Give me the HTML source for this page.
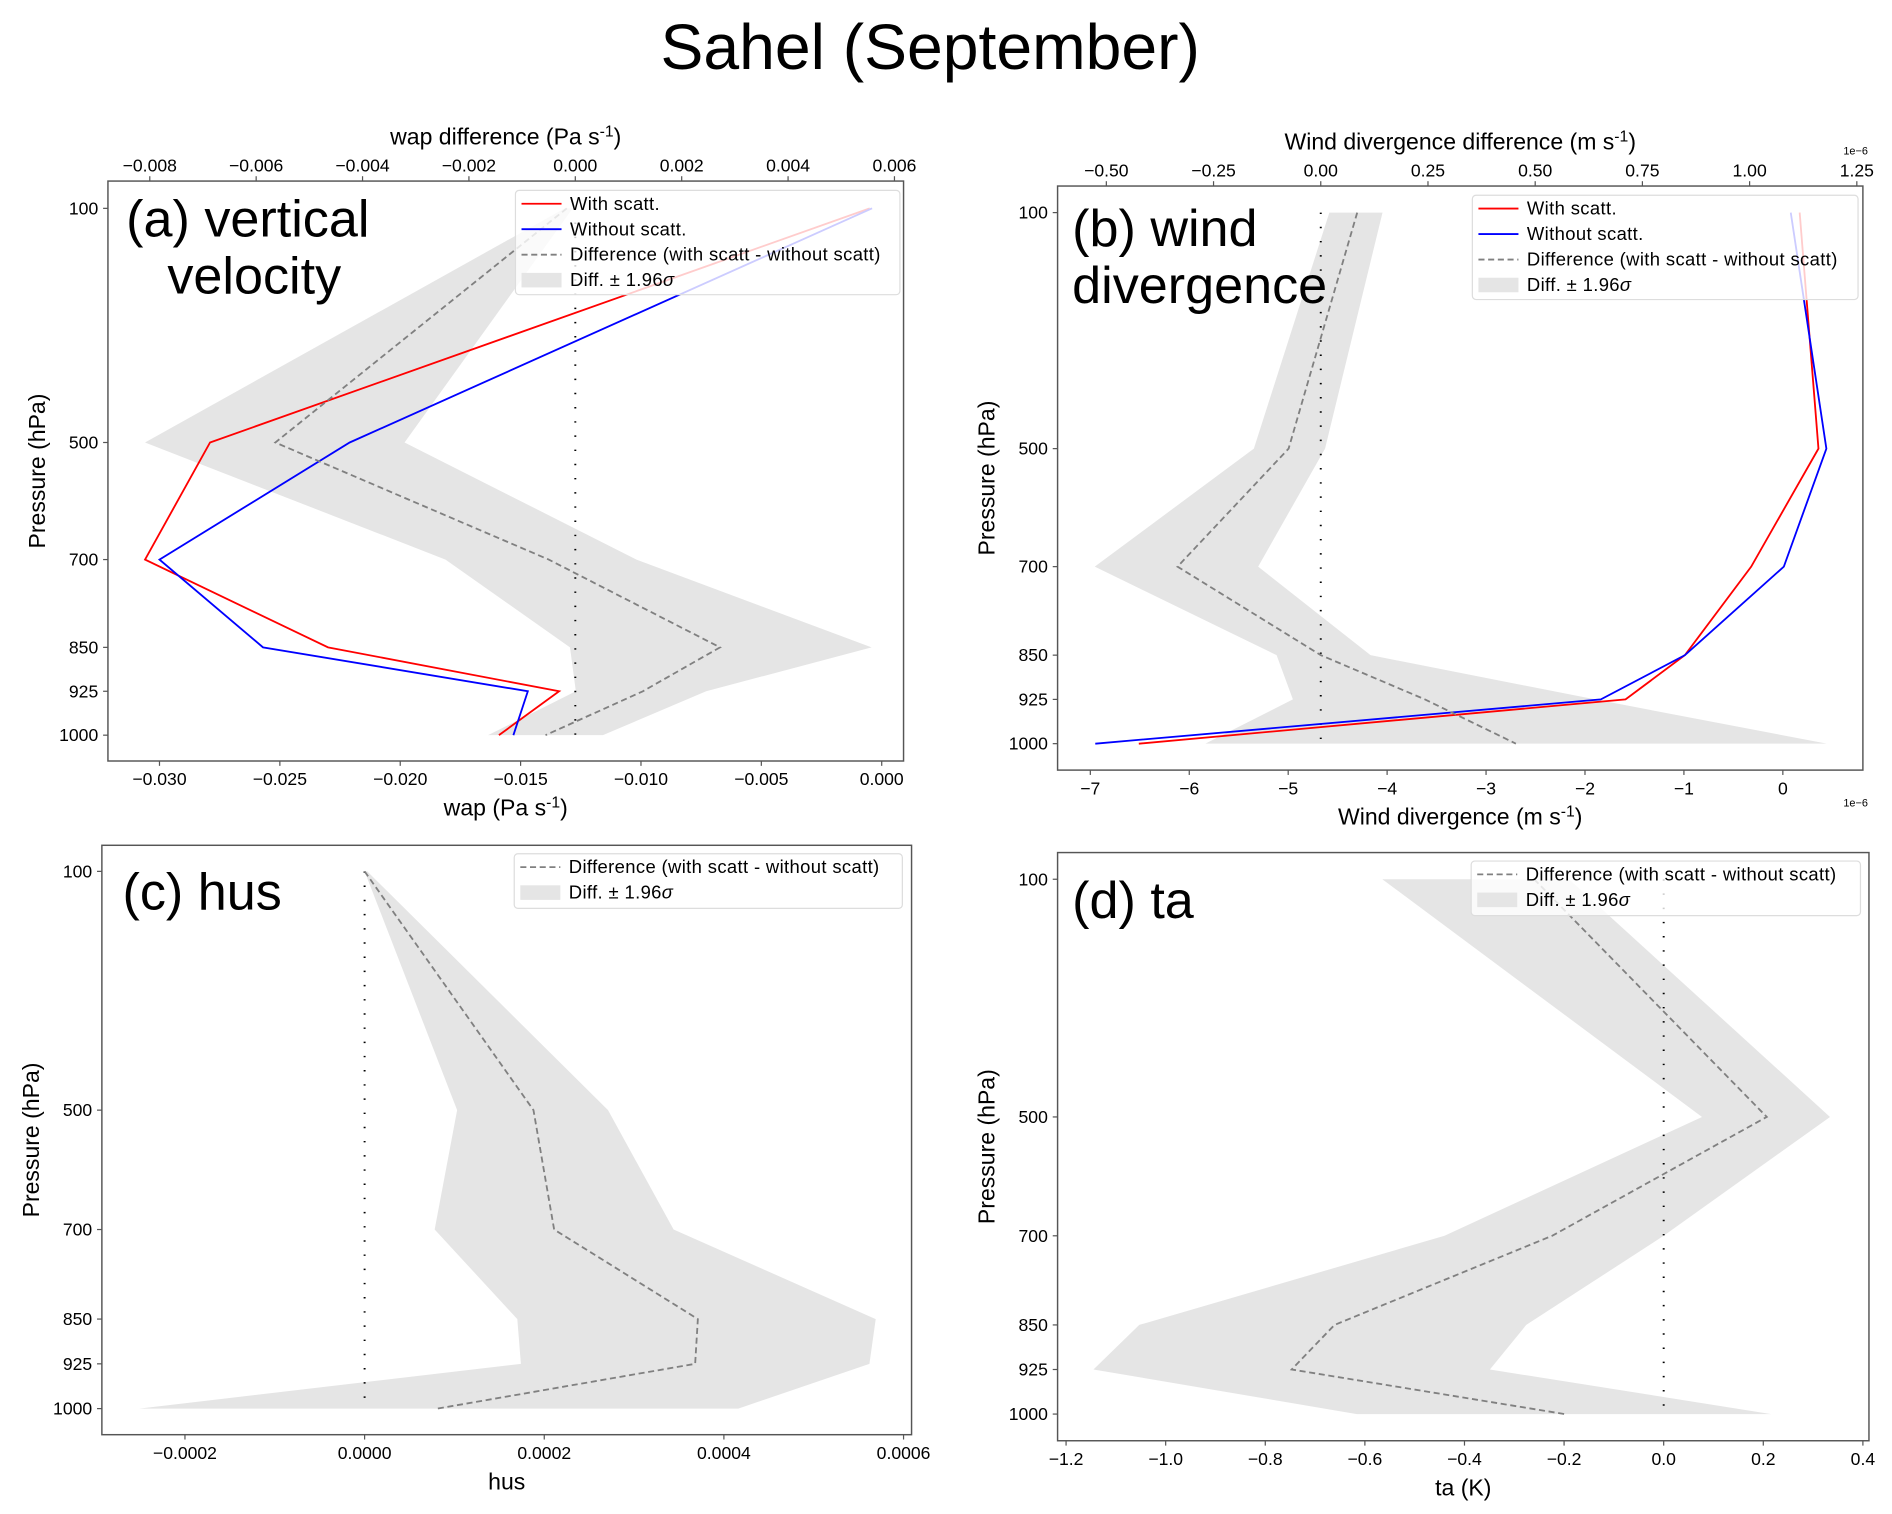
<!DOCTYPE html>
<html><head><meta charset="utf-8"><style>
html,body{margin:0;padding:0;background:#fff;}
svg{display:block;font-family:"Liberation Sans",sans-serif;}
</style></head><body>
<svg id="fig" width="1892" height="1514" viewBox="0 0 1560 1248.4" preserveAspectRatio="none" xmlns="http://www.w3.org/2000/svg">
<rect width="1560" height="1248.4" fill="#fff"/>
<text x="767" y="57" font-size="53" text-anchor="middle" fill="#000">Sahel (September)</text>
</svg>
<script>
// shared pressure levels (hPa)
const levels = [100, 500, 700, 850, 925, 1000];
const levelTicks = [100, 500, 700, 850, 925, 1000];

// (a) vertical velocity
const aWith = [-0.0005, -0.0279, -0.0306, -0.0230, -0.0134, -0.0159];
const aWithout = [-0.0004, -0.0221, -0.0300, -0.0257, -0.0147, -0.0153];
const aDiff = [-0.00016, -0.00564, -0.0005, 0.00272, 0.00127, -0.00056];
const aLow = [-0.0002, -0.00809, -0.00244, -0.0001, 0.00001, -0.00164];
const aHigh = [-0.00005, -0.00321, 0.00115, 0.00557, 0.00246, 0.00052];
const aBottomTicks = [-0.030, -0.025, -0.020, -0.015, -0.010, -0.005, 0.000];
const aTopTicks = [-0.008, -0.006, -0.004, -0.002, 0.000, 0.002, 0.004, 0.006];

// (b) wind divergence (units 1e-6)
const bWith = [0.17, 0.36, -0.32, -0.99, -1.59, -6.51];
const bWithout = [0.08, 0.44, 0.01, -0.99, -1.84, -6.95];
const bDiff = [0.085, -0.075, -0.334, 0.0, 0.243, 0.455];
const bLow = [0.02, -0.156, -0.527, -0.103, -0.065, -0.269];
const bHigh = [0.144, 0.01, -0.146, 0.116, 0.64, 1.18];
const bBottomTicks = [-7, -6, -5, -4, -3, -2, -1, 0];
const bTopTicks = [-0.50, -0.25, 0.00, 0.25, 0.50, 0.75, 1.00, 1.25];

// (c) hus
const cDiff = [0, 0.000188, 0.000211, 0.000371, 0.000368, 0.000081];
const cLow = [0, 0.000103, 0.000078, 0.00017, 0.000174, -0.000251];
const cHigh = [0.000003, 0.000271, 0.000344, 0.000569, 0.000562, 0.000416];
const cBottomTicks = [-0.0002, 0.0000, 0.0002, 0.0004, 0.0006];

// (d) ta
const dDiff = [-0.26, 0.207, -0.224, -0.661, -0.747, -0.199];
const dLow = [-0.565, 0.077, -0.44, -1.053, -1.145, -0.616];
const dHigh = [-0.19, 0.334, 0.0, -0.276, -0.349, 0.216];
const dBottomTicks = [-1.2, -1.0, -0.8, -0.6, -0.4, -0.2, 0.0, 0.2, 0.4];

const NS = "http://www.w3.org/2000/svg";
const svg = document.getElementById('fig');
function mk(tag, attrs, parent, txt){
  const e = document.createElementNS(NS, tag);
  for (const k in attrs) e.setAttribute(k, attrs[k]);
  if (txt !== undefined) e.textContent = txt;
  (parent || svg).appendChild(e);
  return e;
}
function lin(v0, p0, v1, p1){ return v => p0 + (v - v0) * (p1 - p0) / (v1 - v0); }
function fmt(v, d){ const s = Math.abs(v).toFixed(d); return (v < -1e-12 ? "−" : "") + s; }

function panel(cfg){
  const g = mk('g', {});
  
  
  const F = cfg.frame;
  const y = lin(100, cfg.y100, 1000, cfg.y1000);
  const xb = lin(cfg.bA[0], cfg.bA[1], cfg.bB[0], cfg.bB[1]);
  const xt = cfg.tA ? lin(cfg.tA[0], cfg.tA[1], cfg.tB[0], cfg.tB[1]) : xb;
  const xd = cfg.diffOnTop ? xt : xb;
  if (cfg.low){
    let pts = [];
    for (let i = 0; i < levels.length; i++) pts.push(xd(cfg.low[i]) + ',' + y(levels[i]));
    for (let i = levels.length - 1; i >= 0; i--) pts.push(xd(cfg.high[i]) + ',' + y(levels[i]));
    const band = mk('polygon', {points: pts.join(' '), fill: '#e5e5e5', stroke: 'none'}, g);
    
    
  }
  const z = mk('line', {x1: xd(0), x2: xd(0), y1: y(100), y2: y(1000), stroke: '#000', 'stroke-width': 1.6, 'stroke-dasharray': '1.2 10.5'}, g);
  
  
  function series(vals, fx, color, dash, nm){
    const p = vals.map((v, i) => fx(v) + ',' + y(levels[i])).join(' ');
    const l = mk('polyline', {points: p, fill: 'none', stroke: color, 'stroke-width': 1.5}, g);
    if (dash) l.setAttribute('stroke-dasharray', dash);
    
    
  }
  if (cfg.withS) series(cfg.withS, xb, '#ff0000', null, 'with-scatt-line');
  if (cfg.withoutS) series(cfg.withoutS, xb, '#0000ff', null, 'without-scatt-line');
  series(cfg.diff, xd, '#808080', '5 3', 'difference-line');
  const fr = mk('rect', {x: F[0], y: F[1], width: F[2] - F[0], height: F[3] - F[1], fill: 'none', stroke: '#555', 'stroke-width': 1.2}, g);
  
  
  levelTicks.forEach(p => {
    mk('line', {x1: F[0] - 4, x2: F[0], y1: y(p), y2: y(p), stroke: '#555'}, g);
    const t = mk('text', {x: F[0] - 8, y: y(p) + 5, 'font-size': 14.5, 'text-anchor': 'end'}, g, String(p));
    
    
  });
  cfg.bTicks.forEach(v => {
    mk('line', {x1: xb(v), x2: xb(v), y1: F[3], y2: F[3] + 4, stroke: '#555'}, g);
    const t = mk('text', {x: xb(v), y: F[3] + 20, 'font-size': 14.5, 'text-anchor': 'middle'}, g, fmt(v, cfg.bDec));
    
    
  });
  if (cfg.tTicks){
    cfg.tTicks.forEach(v => {
      mk('line', {x1: xt(v), x2: xt(v), y1: F[1] - 4, y2: F[1], stroke: '#555'}, g);
      const t = mk('text', {x: xt(v), y: F[1] - 8, 'font-size': 14.5, 'text-anchor': 'middle'}, g, fmt(v, cfg.tDec));
      
      
    });
  }
  const cx = (F[0] + F[2]) / 2;
  const xl = mk('text', {x: cx, y: F[3] + 45, 'font-size': 19, 'text-anchor': 'middle'}, g);
  xl.innerHTML = cfg.bLabel;
  
  
  if (cfg.tLabel){
    const tl = mk('text', {x: cx, y: F[1] - 30, 'font-size': 19, 'text-anchor': 'middle'}, g);
    tl.innerHTML = cfg.tLabel;
    
    
  }
  const cy = (F[1] + F[3]) / 2;
  const yl = mk('text', {x: 0, y: 0, 'font-size': 19, 'text-anchor': 'middle', transform: 'translate(' + (F[0] - 52) + ',' + cy + ') rotate(-90)'}, g, 'Pressure (hPa)');
  
  
  if (cfg.sci){
    const s1 = mk('text', {x: F[2] - 6, y: F[1] - 26, 'font-size': 9, 'text-anchor': 'middle'}, g, '1e−6');
    
    
    const s2 = mk('text', {x: F[2] - 6, y: F[3] + 30, 'font-size': 9, 'text-anchor': 'middle'}, g, '1e−6');
    
    
  }
  cfg.label.forEach(l => {
    const t = mk('text', {x: l[0], y: l[1], 'font-size': 43}, g, l[2]);
    
    
  });
  const L = cfg.legend;
  const lg = mk('g', {}, g);
  
  
  mk('rect', {x: L[0], y: L[1], width: L[2] - L[0], height: L[3] - L[1], rx: 3, fill: '#fff', 'fill-opacity': 0.8, stroke: '#ddd'}, lg);
  const entries = [];
  if (cfg.withS) entries.push(['line', '#ff0000', null, 'With scatt.']);
  if (cfg.withoutS) entries.push(['line', '#0000ff', null, 'Without scatt.']);
  entries.push(['line', '#808080', '5 3', 'Difference (with scatt - without scatt)']);
  entries.push(['patch', '#e5e5e5', null, 'Diff. ± 1.96<tspan font-style="italic">σ</tspan>']);
  entries.forEach((e, i) => {
    const ey = L[1] + 11 + i * 21;
    const eg = mk('g', {}, lg);
    
    
    if (e[0] === 'line'){
      const ln = mk('line', {x1: L[0] + 5, x2: L[0] + 38, y1: ey, y2: ey, stroke: e[1], 'stroke-width': 1.5}, eg);
      if (e[2]) ln.setAttribute('stroke-dasharray', e[2]);
    } else {
      mk('rect', {x: L[0] + 5, y: ey - 6, width: 33, height: 12, fill: e[1]}, eg);
    }
    const t = mk('text', {x: L[0] + 45, y: ey + 5, 'font-size': 15.2, 'letter-spacing': '0.3'}, eg);
    t.innerHTML = e[3];
  });
}

const sup = '<tspan baseline-shift="super" font-size="13">-1</tspan>';
panel({name: 'panel-a-vertical-velocity', frame: [89, 149.3, 745, 627.5], y100: 171.8, y1000: 606.2,
  bA: [-0.03, 131.5], bB: [0, 727], tA: [-0.008, 123.5], tB: [0.006, 737.5], diffOnTop: true,
  withS: aWith, withoutS: aWithout, diff: aDiff, low: aLow, high: aHigh,
  bTicks: aBottomTicks, bDec: 3, tTicks: aTopTicks, tDec: 3,
  bLabel: 'wap (Pa s' + sup + ')', tLabel: 'wap difference (Pa s' + sup + ')',
  label: [[104, 195, '(a) vertical'], [138, 242, 'velocity']], legend: [425, 157, 742, 243]});
panel({name: 'panel-b-wind-divergence', frame: [872, 153.4, 1536, 635], y100: 175.3, y1000: 613.2,
  bA: [-7, 899], bB: [0, 1470], tA: [0, 1089], tB: [1.25, 1531], diffOnTop: true, sci: true,
  withS: bWith, withoutS: bWithout, diff: bDiff, low: bLow, high: bHigh,
  bTicks: bBottomTicks, bDec: 0, tTicks: bTopTicks, tDec: 2,
  bLabel: 'Wind divergence (m s' + sup + ')', tLabel: 'Wind divergence difference (m s' + sup + ')',
  label: [[884, 203, '(b) wind'], [884, 250, 'divergence']], legend: [1214, 161, 1532, 247]});
panel({name: 'panel-c-hus', frame: [84, 697, 751.6, 1183], y100: 718.5, y1000: 1161.5,
  bA: [-0.0002, 152.5], bB: [0.0006, 745],
  diff: cDiff, low: cLow, high: cHigh, bTicks: cBottomTicks, bDec: 4,
  bLabel: 'hus', label: [[101, 750, '(c) hus']], legend: [424, 704, 744, 749]});
panel({name: 'panel-d-ta', frame: [872, 703, 1541, 1188], y100: 725, y1000: 1166,
  bA: [-1.2, 879], bB: [0.4, 1536],
  diff: dDiff, low: dLow, high: dHigh, bTicks: dBottomTicks, bDec: 1,
  bLabel: 'ta (K)', label: [[884, 757, '(d) ta']], legend: [1213, 710, 1534, 755]});
</script>
</body></html>
